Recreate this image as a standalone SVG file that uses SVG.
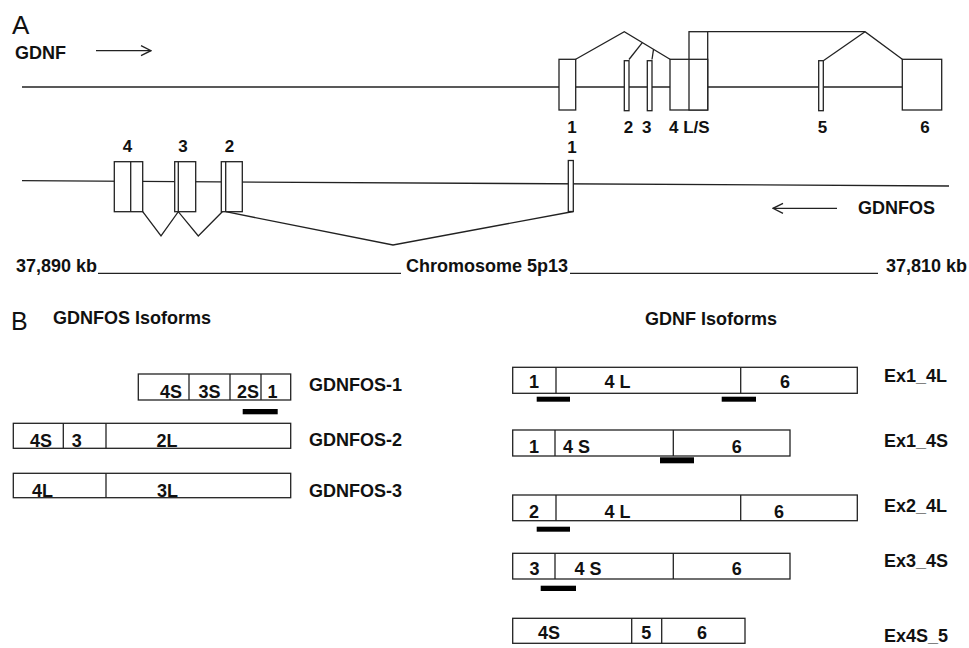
<svg xmlns="http://www.w3.org/2000/svg" width="969" height="648" viewBox="0 0 969 648">
<style>
text{font-family:"Liberation Sans",Arial,sans-serif;font-weight:bold;font-size:18px;fill:#111}
.n{font-size:17px}
.panel{font-weight:normal;font-size:26px}
.m{text-anchor:middle}
.ln{fill:none;stroke:#222;stroke-width:1.3}
.ex{fill:#fff;stroke:#222;stroke-width:1.3}
.bar{fill:#000}
</style>
<defs>
<marker id="ah" viewBox="0 0 12 12" refX="11" refY="6" markerWidth="12" markerHeight="12" markerUnits="userSpaceOnUse" orient="auto">
<path d="M1,1 L11,6 L1,11" fill="none" stroke="#222" stroke-width="1.3"/>
</marker>
</defs>
<rect width="969" height="648" fill="#fff"/>

<!-- Panel A -->
<text class="panel" x="12" y="34">A</text>
<text x="15" y="59">GDNF</text>
<g id="connectors">
<line class="ln" x1="96" y1="50.7" x2="151" y2="50.7" marker-end="url(#ah)"/>
<line class="ln" x1="837" y1="208.3" x2="773" y2="208.3" marker-end="url(#ah)"/>
<line class="ln" x1="22" y1="87" x2="902" y2="87"/>
<line class="ln" x1="22" y1="180.7" x2="949" y2="186"/>
<polyline class="ln" points="575.7,59.3 624.3,31.7 670,59.3"/>
<line class="ln" x1="629" y1="59.5" x2="642.3" y2="42.6"/>
<line class="ln" x1="652" y1="59.5" x2="653.5" y2="49.3"/>
<polyline class="ln" points="707.7,31.7 865,31.7 902.3,59.3"/>
<line class="ln" x1="865" y1="31.7" x2="823.3" y2="60.7"/>
<polyline class="ln" points="142.7,211.7 161,236 178.3,211.7 198.3,236 222.3,211.7"/>
<polyline class="ln" points="225.7,211.7 393,245 573.3,211.5"/>
<line class="ln" x1="98" y1="273.3" x2="401" y2="273.3"/>
<line class="ln" x1="570" y1="273.3" x2="878" y2="273.3"/>
</g>

<g id="gdnf-ex1"><rect class="ex" x="559" y="59.3" width="16.7" height="50.7"/><text class="n m" x="572" y="133">1</text></g>
<g id="gdnf-ex2"><rect class="ex" x="624.3" y="60.7" width="4.7" height="50"/><text class="n m" x="628.5" y="133">2</text></g>
<g id="gdnf-ex3"><rect class="ex" x="647.3" y="60.7" width="4.7" height="50"/><text class="n m" x="646.7" y="133">3</text></g>
<g id="gdnf-ex4"><rect class="ex" x="670" y="59.3" width="37.7" height="50.7"/><rect class="ex" x="689" y="31.7" width="18.7" height="78.3"/><line class="ln" x1="689" y1="59.3" x2="707.7" y2="59.3"/><text class="n" x="669" y="133">4 L/S</text></g>
<g id="gdnf-ex5"><rect class="ex" x="818.7" y="60.7" width="4.6" height="50"/><text class="n m" x="822.5" y="133">5</text></g>
<g id="gdnf-ex6"><rect class="ex" x="902.3" y="59.3" width="39.4" height="50.7"/><text class="n m" x="925" y="133">6</text></g>

<g id="gdnfos-ex4"><rect class="ex" x="114.3" y="161.7" width="28.4" height="50"/><line class="ln" x1="130.7" y1="161.7" x2="130.7" y2="211.7"/><text class="n m" x="127.5" y="152">4</text></g>
<g id="gdnfos-ex3"><rect class="ex" x="174.7" y="161.7" width="21" height="50"/><line class="ln" x1="178.3" y1="161.7" x2="178.3" y2="211.7"/><text class="n m" x="183" y="152">3</text></g>
<g id="gdnfos-ex2"><rect class="ex" x="221.3" y="161.7" width="21" height="50"/><line class="ln" x1="225.7" y1="161.7" x2="225.7" y2="211.7"/><text class="n m" x="229.5" y="152">2</text></g>
<g id="gdnfos-ex1"><rect class="ex" x="568.3" y="160.5" width="5" height="51"/><text class="n m" x="572" y="153">1</text></g>
<text x="858" y="214">GDNFOS</text>
<text x="16" y="272">37,890 kb</text>
<text x="406" y="272">Chromosome 5p13</text>
<text x="886" y="272">37,810 kb</text>

<!-- Panel B -->
<text class="panel" x="11" y="330" style="font-size:25px">B</text>
<text x="53" y="324">GDNFOS Isoforms</text>
<text x="645" y="325">GDNF Isoforms</text>

<g id="gdnfos-1">
<rect class="ex" x="138.3" y="374" width="152.4" height="26"/>
<line class="ln" x1="189" y1="374" x2="189" y2="400"/><line class="ln" x1="230" y1="374" x2="230" y2="400"/><line class="ln" x1="261" y1="374" x2="261" y2="400"/>
<text class="m" x="171" y="398">4S</text><text class="m" x="209.5" y="398">3S</text><text class="m" x="248" y="398">2S</text><text class="m" x="272.5" y="398">1</text>
<rect class="bar" x="242.7" y="409" width="35" height="5.3"/>
<text x="309" y="391">GDNFOS-1</text>
</g>
<g id="gdnfos-2">
<rect class="ex" x="13.3" y="423.3" width="277.4" height="25"/>
<line class="ln" x1="63.3" y1="423.3" x2="63.3" y2="448.3"/><line class="ln" x1="106" y1="423.3" x2="106" y2="448.3"/>
<text class="m" x="41" y="446.5">4S</text><text class="m" x="76.7" y="446.5">3</text><text class="m" x="167" y="446.5">2L</text>
<text x="309" y="446">GDNFOS-2</text>
</g>
<g id="gdnfos-3">
<rect class="ex" x="13.3" y="473.3" width="277.4" height="24.4"/>
<line class="ln" x1="106" y1="473.3" x2="106" y2="497.7"/>
<text class="m" x="42.5" y="496.5">4L</text><text class="m" x="167.5" y="496.5">3L</text>
<text x="309" y="497">GDNFOS-3</text>
</g>

<g id="ex1-4l">
<rect class="ex" x="512.7" y="367.3" width="344.6" height="26"/>
<line class="ln" x1="556" y1="367.3" x2="556" y2="393.3"/><line class="ln" x1="740.7" y1="367.3" x2="740.7" y2="393.3"/>
<text class="m" x="534" y="388">1</text><text class="m" x="617.5" y="388">4 L</text><text class="m" x="785" y="388">6</text>
<rect class="bar" x="536.7" y="396.7" width="33.3" height="5"/><rect class="bar" x="721.7" y="396.7" width="34.3" height="5"/>
<text x="884" y="382">Ex1_4L</text>
</g>
<g id="ex1-4s">
<rect class="ex" x="512.7" y="430" width="277.3" height="26"/>
<line class="ln" x1="555" y1="430" x2="555" y2="456"/><line class="ln" x1="673.3" y1="430" x2="673.3" y2="456"/>
<text class="m" x="534" y="453">1</text><text class="m" x="576.5" y="453">4 S</text><text class="m" x="736.7" y="453">6</text>
<rect class="bar" x="660" y="457.3" width="34" height="6"/>
<text x="884" y="447">Ex1_4S</text>
</g>
<g id="ex2-4l">
<rect class="ex" x="512.7" y="495" width="344.6" height="25.7"/>
<line class="ln" x1="556" y1="495" x2="556" y2="520.7"/><line class="ln" x1="740.7" y1="495" x2="740.7" y2="520.7"/>
<text class="m" x="534" y="518">2</text><text class="m" x="617.5" y="518">4 L</text><text class="m" x="779" y="518">6</text>
<rect class="bar" x="536.7" y="526.7" width="33.3" height="5"/>
<text x="884" y="512">Ex2_4L</text>
</g>
<g id="ex3-4s">
<rect class="ex" x="512.7" y="553.3" width="277.3" height="25.7"/>
<line class="ln" x1="555" y1="553.3" x2="555" y2="579"/><line class="ln" x1="673.3" y1="553.3" x2="673.3" y2="579"/>
<text class="m" x="534.5" y="575">3</text><text class="m" x="588" y="575">4 S</text><text class="m" x="736.7" y="575">6</text>
<rect class="bar" x="540.7" y="585.7" width="35.3" height="5.3"/>
<text x="884" y="567">Ex3_4S</text>
</g>
<g id="ex4s-5">
<rect class="ex" x="512.7" y="618.3" width="232.3" height="25"/>
<line class="ln" x1="631.7" y1="618.3" x2="631.7" y2="643.3"/><line class="ln" x1="661.7" y1="618.3" x2="661.7" y2="643.3"/>
<text class="m" x="549" y="639">4S</text><text class="m" x="646.3" y="639">5</text><text class="m" x="702" y="639">6</text>
<text x="884" y="642">Ex4S_5</text>
</g>
</svg>
